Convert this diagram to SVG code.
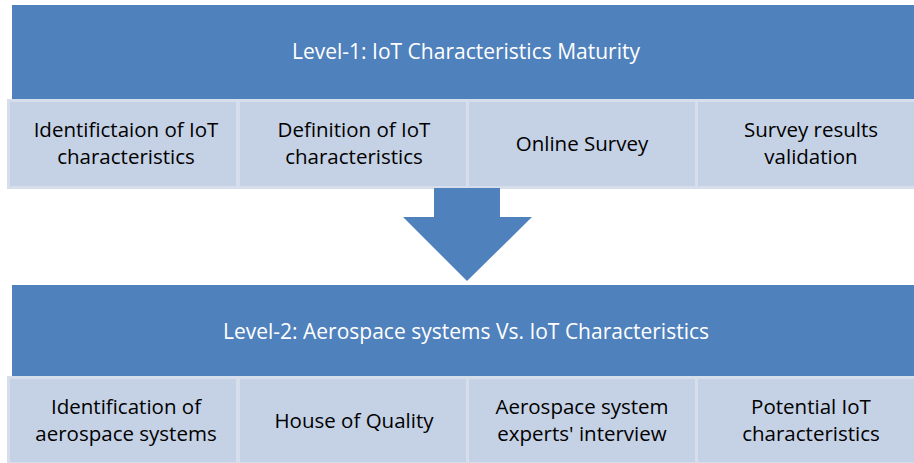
<svg xmlns="http://www.w3.org/2000/svg" width="914" height="463" viewBox="0 0 914 463">
<style>
.hdr{fill:#4F81BD}
.box{fill:#C5D1E5;stroke:#D6DEEC;stroke-width:3}
.ht{font-family:"Open Sans","Noto Sans",sans-serif;font-size:21px;fill:#FFFFFF;text-anchor:middle}
.bt{font-family:"Open Sans","Noto Sans",sans-serif;font-size:20.5px;fill:#000000;text-anchor:middle}
</style>
<rect width="914" height="463" fill="#FFFFFF"/>
<g id="level1">
<rect class="hdr" x="12" y="5" width="905" height="96"/>
<text class="ht" x="466" y="59">Level-1: IoT Characteristics Maturity</text>
</g>
<g id="l1-b1"><rect class="box" x="8.5" y="100.5" width="229" height="87"/><text class="bt" x="126" y="137">Identifictaion of IoT</text><text class="bt" x="126" y="164">characteristics</text></g>
<g id="l1-b2"><rect class="box" x="238.5" y="100.5" width="229" height="87"/><text class="bt" x="354" y="137">Definition of IoT</text><text class="bt" x="354" y="164">characteristics</text></g>
<g id="l1-b3"><rect class="box" x="467.5" y="100.5" width="229" height="87"/><text class="bt" x="582" y="151">Online Survey</text></g>
<g id="l1-b4"><rect class="box" x="696.5" y="100.5" width="229" height="87"/><text class="bt" x="811" y="137">Survey results</text><text class="bt" x="811" y="164">validation</text></g>
<g id="connectors">
<polygon class="hdr" points="434,188 500,188 500,217 532,217 467,281 403,217 434,217"/>
</g>
<g id="level2">
<rect class="hdr" x="12" y="285" width="905" height="93"/>
<text class="ht" x="466" y="339">Level-2: Aerospace systems Vs. IoT Characteristics</text>
</g>
<g id="l2-b1"><rect class="box" x="8.5" y="377.5" width="229" height="86"/><text class="bt" x="126" y="414">Identification of</text><text class="bt" x="126" y="441">aerospace systems</text></g>
<g id="l2-b2"><rect class="box" x="238.5" y="377.5" width="229" height="86"/><text class="bt" x="354" y="428">House of Quality</text></g>
<g id="l2-b3"><rect class="box" x="467.5" y="377.5" width="229" height="86"/><text class="bt" x="582" y="414">Aerospace system</text><text class="bt" x="582" y="441">experts' interview</text></g>
<g id="l2-b4"><rect class="box" x="696.5" y="377.5" width="229" height="86"/><text class="bt" x="811" y="414">Potential IoT</text><text class="bt" x="811" y="441">characteristics</text></g>
</svg>
